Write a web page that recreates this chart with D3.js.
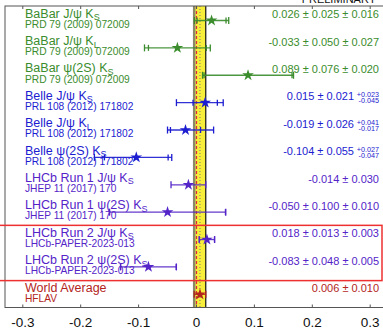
<!DOCTYPE html>
<html>
<head>
<meta charset="utf-8">
<script src="https://cdn.jsdelivr.net/npm/d3@7"></script>
<style>
  html, body { margin: 0; padding: 0; background: #fff; overflow: hidden; }
  text { font-family: "Liberation Sans", Arial, Helvetica, sans-serif; }
</style>
</head>
<body>
<div id="chart"></div>
<script>
// measurements, top to bottom
const titles = ["BaBar J/ψ K", "BaBar J/ψ K", "BaBar ψ(2S) K",
  "Belle J/ψ K", "Belle J/ψ K", "Belle ψ(2S) K",
  "LHCb Run 1 J/ψ K", "LHCb Run 1 ψ(2S) K",
  "LHCb Run 2 J/ψ K", "LHCb Run 2 ψ(2S) K", "World Average"];
const subs = ["S", "L", "S", "S", "L", "S", "S", "S", "S", "S", ""];
const refs = ["PRD 79 (2009) 072009", "PRD 79 (2009) 072009", "PRD 79 (2009) 072009",
  "PRL 108 (2012) 171802", "PRL 108 (2012) 171802", "PRL 108 (2012) 171802",
  "JHEP 11 (2017) 170", "JHEP 11 (2017) 170",
  "LHCb-PAPER-2023-013", "LHCb-PAPER-2023-013", "HFLAV"];
const groups = ["babar", "babar", "babar", "belle", "belle", "belle",
  "lhcb", "lhcb", "lhcb", "lhcb", "avg"];
const central = [0.026, -0.033, 0.089, 0.015, -0.019, -0.104, -0.014, -0.050, 0.018, -0.083, 0.006];
const statErr = [0.025, 0.050, 0.076, 0.021, 0.026, 0.055, 0.030, 0.100, 0.013, 0.048, 0.010];
const systUp = [0.016, 0.027, 0.020, 0.023, 0.041, 0.027, null, 0.010, 0.003, 0.005, null];
const systDown = [0.016, 0.027, 0.020, 0.045, 0.017, 0.047, null, 0.010, 0.003, 0.005, null];
const xTicks = [-0.3, -0.2, -0.1, 0, 0.1, 0.2, 0.3];
const avgIndex = 10;

const colors = { babar: "#3a8c2c", belle: "#1c1cd0", lhcb: "#5424c8", avg: "#b3241c" };

const W = 383, H = 328;
const frame = { left: 5, right: 392, top: 6, bottom: 307.5 };

const svg = d3.select("#chart").append("svg")
  .attr("width", W).attr("height", H)
  .attr("viewBox", `0 0 ${W} ${H}`);

const x = d3.scaleLinear().domain([-0.3, 0.3]).range([22.8, 370.2]);
const y = d3.scaleLinear().domain([0, 10]).range([20.5, 294.3]);

function fmt(v) { return v.toFixed(3); }

// world average band
const avgLo = central[avgIndex] - statErr[avgIndex];
const avgHi = central[avgIndex] + statErr[avgIndex];
svg.append("rect")
  .attr("x", x(avgLo)).attr("y", frame.top)
  .attr("width", x(avgHi) - x(avgLo)).attr("height", frame.bottom - frame.top)
  .attr("fill", "#f6ee3a");
svg.append("line")
  .attr("x1", x(avgLo)).attr("x2", x(avgLo))
  .attr("y1", frame.top).attr("y2", frame.bottom)
  .attr("stroke", "#8a8a6a").attr("stroke-width", 2.5);
svg.append("line")
  .attr("x1", x(avgHi)).attr("x2", x(avgHi))
  .attr("y1", frame.top).attr("y2", frame.bottom)
  .attr("stroke", "#111").attr("stroke-width", 1.2);
svg.append("line")
  .attr("x1", x(0)).attr("x2", x(0))
  .attr("y1", frame.top).attr("y2", frame.bottom)
  .attr("stroke", "#e0283a").attr("stroke-width", 1.2)
  .attr("stroke-dasharray", "3 2");
svg.append("line")
  .attr("x1", x(central[avgIndex])).attr("x2", x(central[avgIndex]))
  .attr("y1", frame.top).attr("y2", frame.bottom)
  .attr("stroke", "#777").attr("stroke-width", 1)
  .attr("stroke-dasharray", "1 2");

// frame
svg.append("rect")
  .attr("x", frame.left).attr("y", frame.top)
  .attr("width", frame.right - frame.left).attr("height", frame.bottom - frame.top)
  .attr("fill", "none").attr("stroke", "#555").attr("stroke-width", 1);

// ticks on top and bottom, labels below
xTicks.forEach(t => {
  svg.append("line")
    .attr("x1", x(t)).attr("x2", x(t))
    .attr("y1", frame.bottom).attr("y2", frame.bottom - 3)
    .attr("stroke", "#555");
  svg.append("line")
    .attr("x1", x(t)).attr("x2", x(t))
    .attr("y1", frame.top).attr("y2", frame.top + 3)
    .attr("stroke", "#555");
  svg.append("text")
    .attr("x", x(t)).attr("y", 326.5)
    .attr("text-anchor", "middle")
    .attr("font-size", 13.5).attr("fill", "#111")
    .text(t === 0 ? "0" : String(t));
});

svg.append("text")
  .attr("x", 376).attr("y", 3)
  .attr("text-anchor", "end")
  .attr("font-size", 11).attr("fill", "#111")
  .text("PRELIMINARY");

// rows
const rows = svg.selectAll("g.row")
  .data(d3.range(titles.length))
  .enter().append("g")
  .attr("class", "row");

rows.each(function(i) {
  const g = d3.select(this);
  const c = colors[groups[i]];
  const yy = y(i);
  const sUp = systUp[i] ?? 0, sDn = systDown[i] ?? 0;
  const hi = central[i] + Math.sqrt(statErr[i] ** 2 + sUp ** 2);
  const lo = central[i] - Math.sqrt(statErr[i] ** 2 + sDn ** 2);

  // labels
  const t = g.append("text")
    .attr("x", 25).attr("y", yy - 2.8)
    .attr("font-size", 12.5).attr("fill", c)
    .text(titles[i]);
  if (subs[i]) {
    t.append("tspan").attr("dy", 2.5).attr("font-size", 9).text(subs[i]);
  }
  g.append("text")
    .attr("x", 25).attr("y", yy + 7.3)
    .attr("font-size", 10.2).attr("fill", c)
    .text(refs[i]);

  // error bar
  g.append("line")
    .attr("x1", x(lo)).attr("x2", x(hi))
    .attr("y1", yy).attr("y2", yy)
    .attr("stroke", c).attr("stroke-width", 1.3).attr("opacity", 0.9);
  [lo, hi].forEach(v => {
    g.append("line")
      .attr("x1", x(v)).attr("x2", x(v))
      .attr("y1", yy - 3.5).attr("y2", yy + 3.5)
      .attr("stroke", c).attr("stroke-width", 1.3);
  });
  if (systUp[i] !== null) {
    [central[i] - statErr[i], central[i] + statErr[i]].forEach(v => {
      g.append("line")
        .attr("x1", x(v)).attr("x2", x(v))
        .attr("y1", yy - 3).attr("y2", yy + 3)
        .attr("stroke", c).attr("stroke-width", 1.3);
    });
  }
  g.append("path")
    .attr("d", d3.symbol(d3.symbolStar, 42)())
    .attr("transform", `translate(${x(central[i])},${yy})`)
    .attr("fill", c);

  // value text
  let main = `${fmt(central[i])} ± ${fmt(statErr[i])}`;
  const asym = systUp[i] !== null && systUp[i] !== systDown[i];
  if (systUp[i] !== null && !asym) main += ` ± ${fmt(systUp[i])}`;
  const tx = 379;
  if (asym) {
    g.append("text")
      .attr("x", tx).attr("y", yy - 5.5)
      .attr("text-anchor", "end").attr("font-size", 7.2).attr("fill", c)
      .text("+" + fmt(systUp[i]));
    g.append("text")
      .attr("x", tx).attr("y", yy + 0.5)
      .attr("text-anchor", "end").attr("font-size", 7.2).attr("fill", c)
      .text("-" + fmt(systDown[i]));
    g.append("text")
      .attr("x", tx - 25).attr("y", yy - 2.2)
      .attr("text-anchor", "end").attr("font-size", 11).attr("fill", c)
      .text(main);
  } else {
    g.append("text")
      .attr("x", tx).attr("y", yy - 2.2)
      .attr("text-anchor", "end").attr("font-size", 11).attr("fill", c)
      .text(main);
  }
});

// box around the new LHCb results
svg.append("rect")
  .attr("x", -3).attr("y", (y(7) + y(8)) / 2 - 0.5)
  .attr("width", 385).attr("height", y(9) - y(7) + 0.5)
  .attr("fill", "none").attr("stroke", "#ee3030").attr("stroke-width", 1.5);
</script>
</body>
</html>
